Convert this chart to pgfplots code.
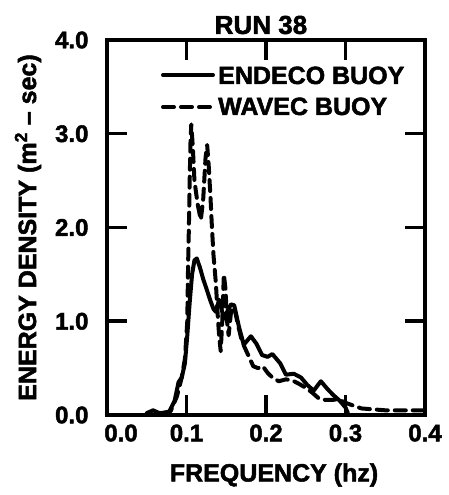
\documentclass[border=0pt]{standalone}
\usepackage{fontspec}
\setmainfont{Liberation Sans}[BoldFeatures={FakeBold=2}]
\usepackage{pgfplots}
\pgfplotsset{compat=1.18}

% ENDECO buoy spectrum (solid)
\pgfplotstableread{
f     e
0.050 0.02
0.058 0.05
0.066 0.02
0.078 0.03
0.085 0.15
0.090 0.35
0.094 0.40
0.098 0.55
0.101 0.85
0.104 1.20
0.107 1.50
0.110 1.65
0.113 1.67
0.117 1.57
0.121 1.45
0.125 1.35
0.130 1.22
0.134 1.13
0.137 1.10
0.141 1.23
0.145 1.10
0.148 1.03
0.152 1.12
0.156 1.18
0.160 1.17
0.166 0.94
0.172 0.75
0.181 0.84
0.188 0.76
0.195 0.64
0.202 0.62
0.208 0.65
0.218 0.55
0.225 0.43
0.235 0.44
0.244 0.40
0.252 0.32
0.260 0.26
0.269 0.36
0.277 0.28
0.285 0.21
0.293 0.15
0.300 0.08
0.303 0.02
}\endeco

% WAVEC buoy spectrum (dashed)
\pgfplotstableread{
f     e
0.070 0.02
0.080 0.04
0.088 0.20
0.094 0.40
0.098 0.60
0.101 1.00
0.102 1.60
0.103 2.00
0.104 2.50
0.105 2.90
0.106 3.10
0.108 2.85
0.110 2.50
0.114 2.25
0.118 2.08
0.121 2.30
0.124 2.75
0.126 2.88
0.128 2.65
0.130 2.35
0.132 2.00
0.134 1.70
0.137 1.40
0.139 1.10
0.141 0.85
0.143 0.68
0.145 1.00
0.147 1.50
0.149 1.35
0.151 1.00
0.153 0.85
0.156 1.10
0.160 1.15
0.165 0.95
0.170 0.78
0.177 0.65
0.184 0.52
0.190 0.50
0.196 0.52
0.202 0.45
0.208 0.40
0.216 0.36
0.225 0.38
0.233 0.37
0.242 0.33
0.250 0.29
0.258 0.24
0.266 0.18
0.275 0.16
0.283 0.16
0.291 0.17
0.300 0.13
0.310 0.10
0.320 0.07
0.335 0.06
0.350 0.05
0.370 0.05
0.390 0.05
0.400 0.05
}\wavec

\begin{document}
\begin{tikzpicture}[font=\bfseries]
  \begin{axis}[
      scale only axis,
      width=318bp, height=375bp,
      xmin=0, xmax=0.4, ymin=0, ymax=4,
      axis line style={line width=3.5bp},
      tick align=inside,
      major tick length=20bp,
      xtick={0,0.1,0.2,0.3,0.4},
      ytick={0,1,2,3,4},
      xtick style={line width=3.5bp, black},
      ytick style={line width=3.5bp, black},
      xticklabels={\hspace*{28bp}0.0, 0.1, 0.2, 0.3, 0.4},
      yticklabels={0.0, 1.0, 2.0, 3.0, 4.0},
      ticklabel style={font=\fontsize{24bp}{26bp}\selectfont\bfseries},
      xticklabel style={yshift=-6bp},
      yticklabel style={xshift=-15bp},
    ]
    \addplot[black, line width=4bp, line join=round, line cap=round]
      table[x=f, y=e] {\endeco};
    \addplot[black, line width=4bp, line join=round, line cap=round,
             dash pattern=on 11bp off 7bp]
      table[x=f, y=e] {\wavec};
  \end{axis}
  % title, axis labels and legend, placed from the lower left corner of the box (318bp x 375bp)
  \begin{scope}[shift={(current axis.south west)}]
    \node[font=\fontsize{26bp}{28bp}\selectfont\bfseries, anchor=center]
      at (154bp,390bp) {RUN 38};
    \node[font=\fontsize{25bp}{28bp}\selectfont\bfseries, anchor=center]
      at (167bp,-60bp) {FREQUENCY (hz)};
    \node[font=\fontsize{25bp}{28bp}\selectfont\bfseries, anchor=center, rotate=90]
      at (-79bp,187.5bp) {ENERGY DENSITY (m\textsuperscript{2} -- sec)};
    \draw[line width=4bp, line cap=round] (56bp,340bp) -- (106bp,340bp);
    \draw[line width=4bp, line cap=round, dash pattern=on 11bp off 7bp]
      (56bp,308bp) -- (106bp,308bp);
    \node[font=\fontsize{25bp}{28bp}\selectfont\bfseries, anchor=base west, inner sep=0pt]
      at (111bp,331bp) {ENDECO BUOY};
    \node[font=\fontsize{25bp}{28bp}\selectfont\bfseries, anchor=base west, inner sep=0pt]
      at (111bp,300bp) {WAVEC BUOY};
  \end{scope}
  % inward ticks on all four sides
  \begin{scope}[shift={(current axis.south west)}, line width=3.5bp, black, solid]
    \foreach \t in {79.5,159,238.5} {
      \draw (\t bp,0bp) -- (\t bp,20bp);
      \draw (\t bp,375bp) -- (\t bp,355bp);
    }
    \foreach \t in {93.75,187.5,281.25} {
      \draw (0bp,\t bp) -- (20bp,\t bp);
      \draw (318bp,\t bp) -- (298bp,\t bp);
    }
  \end{scope}
  \pgfresetboundingbox
  \useasboundingbox (current axis.south west) ++(-107bp,-80bp) rectangle ++(449bp,495bp);
\end{tikzpicture}
\end{document}
